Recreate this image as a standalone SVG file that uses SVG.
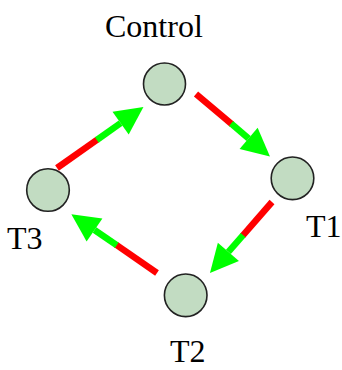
<svg xmlns="http://www.w3.org/2000/svg" width="342" height="370" viewBox="0 0 342 370">
<style>
.node circle{fill:#c2dcc2;stroke:#222;stroke-width:1.6}
.lbl{font-family:"Liberation Serif","Times New Roman",serif;font-size:32px;fill:#000}
.red{stroke:#ff0000;stroke-width:6.5;fill:none}
.grn{stroke:#00ff00;stroke-width:6.5;fill:none}
</style>
<defs>
<marker id="head" markerUnits="userSpaceOnUse" markerWidth="30" markerHeight="30" viewBox="0 -15 30 30" refX="0" refY="0" orient="auto" overflow="visible">
<path d="M0,-14 L28,0 L0,14 Z" fill="#00ff00"/>
</marker>
</defs>
<rect width="342" height="370" fill="#fff"/>
<g id="connectors">
<path class="red" d="M196,94 L231.9,124.3"/>
<path class="grn" d="M231.1,123.6 L248.6,138.4" marker-end="url(#head)"/>
<path class="red" d="M272,202 L242.5,235.8"/>
<path class="grn" d="M243.1,235.1 L228.4,251.9" marker-end="url(#head)"/>
<path class="red" d="M157,273 L116,244.6"/>
<path class="grn" d="M116.8,245.2 L94.5,230" marker-end="url(#head)"/>
<path class="red" d="M57,168 L97.6,139.4"/>
<path class="grn" d="M96.8,140 L120.6,123.1" marker-end="url(#head)"/>
</g>
<g id="control" class="node"><circle cx="164.5" cy="84" r="21"/><text class="lbl" x="105" y="37">Control</text></g>
<g id="t1" class="node"><circle cx="292.5" cy="178.3" r="21.3"/><text class="lbl" x="306" y="237">T1</text></g>
<g id="t2" class="node"><circle cx="185.7" cy="295.3" r="21.3"/><text class="lbl" x="170" y="362">T2</text></g>
<g id="t3" class="node"><circle cx="48" cy="190" r="21.3"/><text class="lbl" x="7" y="249">T3</text></g>
</svg>
